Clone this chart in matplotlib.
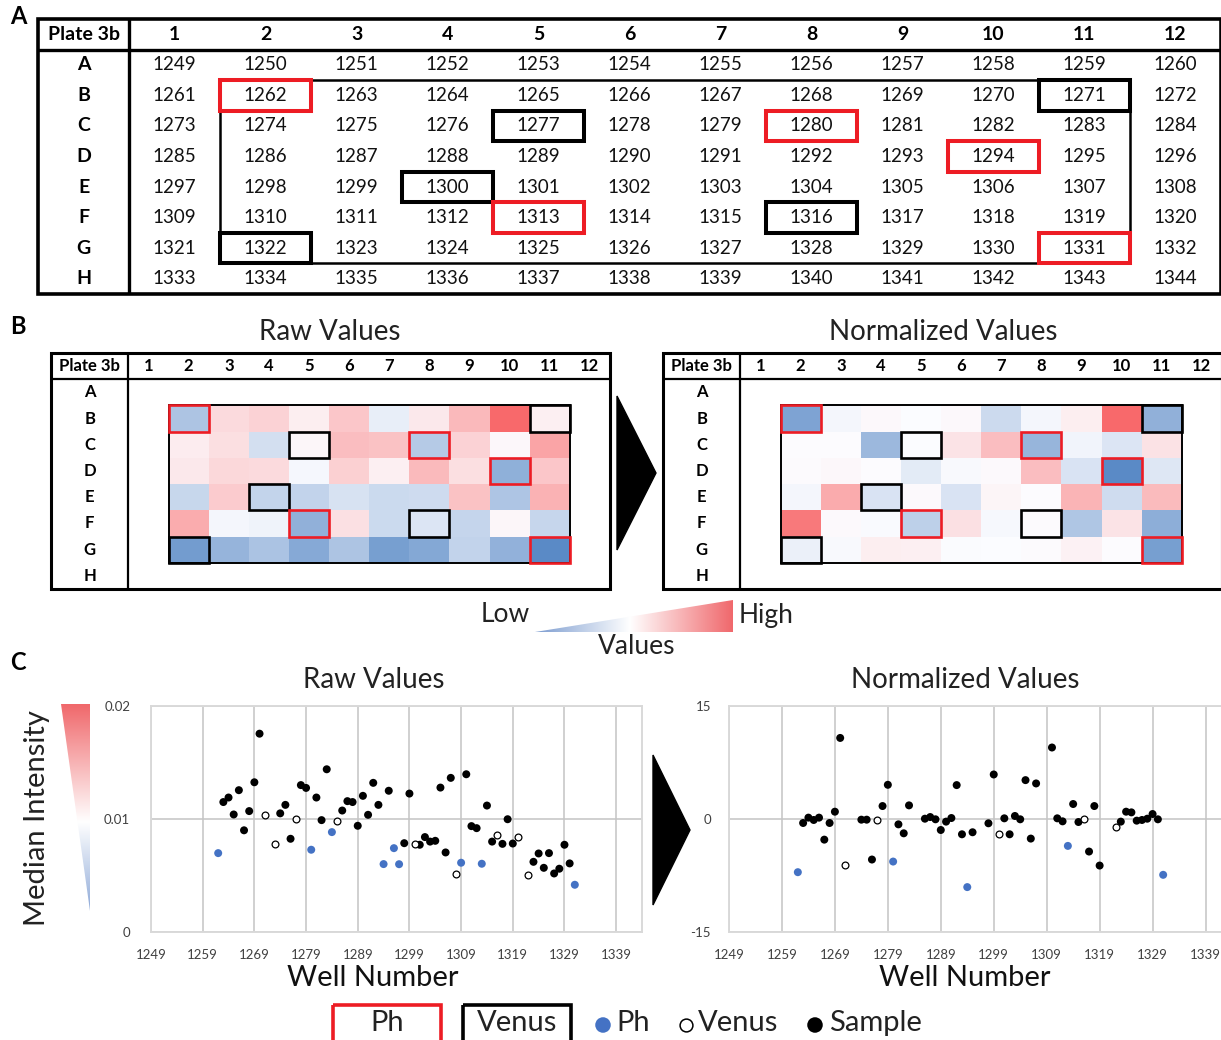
import numpy as np
import matplotlib
matplotlib.use('Agg')
import matplotlib.pyplot as plt
from matplotlib.patches import Rectangle, Polygon
from matplotlib.colors import LinearSegmentedColormap, TwoSlopeNorm

plt.rcParams['font.family'] = ['Lato', 'DejaVu Sans']

# ---------------- data ----------------
rows = list('ABCDEFGH')
cols = list(range(1, 13))
first_well = 1249
plate_name = 'Plate 3b'
region_rows = ('B', 'G')
region_cols = (2, 11)

ph_wells = [1262, 1280, 1294, 1313, 1331]
venus_wells = [1271, 1277, 1300, 1316, 1322]

sample_wells = [1263, 1264, 1265, 1266, 1267, 1268, 1269, 1270,
                1274, 1275, 1276, 1278, 1279, 1281, 1282, 1283,
                1286, 1287, 1288, 1289, 1290, 1291, 1292, 1293, 1295,
                1298, 1299, 1301, 1302, 1303, 1304, 1305, 1306, 1307,
                1310, 1311, 1312, 1314, 1315, 1317, 1318, 1319,
                1323, 1324, 1325, 1326, 1327, 1328, 1329, 1330]
raw_sample_vals = [0.0115, 0.0119, 0.0104, 0.01255, 0.0090, 0.0107, 0.01325, 0.01755,
                   0.0105, 0.01125, 0.00825, 0.0130, 0.01275, 0.0119, 0.0099, 0.0144,
                   0.01075, 0.01158, 0.0115, 0.0094, 0.01205, 0.01037, 0.0132, 0.01125, 0.0125,
                   0.00786, 0.01225, 0.00772, 0.0084, 0.0080, 0.00807, 0.01278, 0.00704, 0.01364,
                   0.01396, 0.00937, 0.00919, 0.01119, 0.0080, 0.0078, 0.00998, 0.00783,
                   0.00621, 0.00695, 0.00568, 0.00698, 0.00518, 0.0056, 0.00772, 0.00607]
norm_sample_vals = [-0.53, 0.18, -0.13, 0.18, -2.74, -0.53, 0.97, 10.76,
                    -0.09, -0.09, -5.38, 1.72, 4.54, -0.71, -1.9, 1.81,
                    0.04, 0.26, -0.04, -1.46, -0.35, 0.13, 4.5, -2.03, -1.76,
                    -0.57, 5.91, 0.09, -2.03, 0.4, -0.04, 5.16, -2.6, 4.72,
                    9.49, 0.09, -0.31, 1.99, -0.4, -4.32, 1.72, -6.18,
                    -0.35, 0.97, 0.88, -0.22, -0.13, 0.04, 0.66, -0.04]

raw_ph_wells = [1262, 1280, 1284, 1294, 1296, 1297, 1309, 1313, 1331]
raw_ph_vals = [0.00698, 0.00728, 0.00884, 0.00601, 0.00742, 0.0060, 0.00613, 0.00604, 0.00418]
raw_venus_wells = [1271, 1273, 1277, 1285, 1300, 1308, 1316, 1320, 1322]
raw_venus_vals = [0.01034, 0.00778, 0.01001, 0.00984, 0.00775, 0.00513, 0.00854, 0.00837, 0.00504]

norm_ph_wells = [1262, 1280, 1294, 1313, 1331]
norm_ph_vals = [-7.06, -5.65, -9.04, -3.57, -7.41]
norm_venus_wells = [1271, 1277, 1300, 1316, 1322]
norm_venus_vals = [-6.04, -0.13, -2.03, 0.04, -1.06]

raw_xticks = list(range(1249, 1340, 10))
raw_yticks = [0, 0.01, 0.02]
raw_yticklabels = ['0', '0.01', '0.02']
norm_yticks = [-15, 0, 15]
norm_yticklabels = ['-15', '0', '15']

# ---------------- styles ----------------
RED = '#ED1C24'
BLUE = '#4472C4'
W, H = 1221, 1040
heat_cmap = LinearSegmentedColormap.from_list('excel_bwr', ['#5A8AC6', '#FCFCFF', '#F8696B'])

fig = plt.figure(figsize=(W / 100, H / 100), dpi=100)


def px_axes(x0, y0, x1, y1, **kw):
    return fig.add_axes([x0 / W, 1 - y1 / H, (x1 - x0) / W, (y1 - y0) / H], **kw)


def well_pos(w):
    k = w - first_well
    return k // 12, k % 12 + 1


def well_number(ri, c):
    return first_well + 12 * ri + (c - 1)


def draw_plate(ax, label_w, head_fs, cell_fs, outer_lw, sep_lw, show_numbers):
    x0 = 0.5 - label_w
    ax.set_xlim(x0, 12.5)
    ax.set_ylim(8.5, -0.5)
    ax.axis('off')
    ax.add_patch(Rectangle((x0, -0.5), 12 + label_w, 9, fill=False, lw=outer_lw,
                           ec='black', clip_on=False, zorder=8))
    ax.plot([x0, 12.5], [0.5, 0.5], color='black', lw=sep_lw, clip_on=False,
            solid_capstyle='butt', zorder=8)
    ax.plot([0.5, 0.5], [-0.5, 8.5], color='black', lw=sep_lw, clip_on=False,
            solid_capstyle='butt', zorder=8)
    xl = (x0 + 0.5) / 2
    ax.text(xl, 0, plate_name, ha='center', va='center', fontsize=head_fs, fontweight='bold')
    for c in cols:
        ax.text(c, 0, str(c), ha='center', va='center', fontsize=head_fs, fontweight='bold')
    for i, r in enumerate(rows):
        ax.text(xl, i + 1, r, ha='center', va='center', fontsize=head_fs, fontweight='bold')
        if show_numbers:
            for c in cols:
                ax.text(c, i + 1, str(well_number(i, c)), ha='center', va='center',
                        fontsize=cell_fs, color='#111111')


def draw_marks(ax, box_lw, region_lw):
    ri0, ri1 = rows.index(region_rows[0]), rows.index(region_rows[1])
    ax.add_patch(Rectangle((region_cols[0] - 0.5, ri0 + 0.5), region_cols[1] - region_cols[0] + 1,
                           ri1 - ri0 + 1, fill=False, ec='black', lw=region_lw, zorder=6))
    for w in venus_wells:
        r, c = well_pos(w)
        ax.add_patch(Rectangle((c - 0.5, r + 0.5), 1, 1, fill=False, ec='black', lw=box_lw, zorder=7))
    for w in ph_wells:
        r, c = well_pos(w)
        ax.add_patch(Rectangle((c - 0.5, r + 0.5), 1, 1, fill=False, ec=RED, lw=box_lw, zorder=7))


def draw_heat(ax, values):
    ri0, ri1 = rows.index(region_rows[0]), rows.index(region_rows[1])
    grid = np.array([[values[well_number(ri, c)] for c in range(region_cols[0], region_cols[1] + 1)]
                     for ri in range(ri0, ri1 + 1)])
    norm = TwoSlopeNorm(vmin=grid.min(), vcenter=np.percentile(grid, 50), vmax=grid.max())
    xe = np.arange(region_cols[0] - 0.5, region_cols[1] + 0.51, 1)
    ye = np.arange(ri0 + 0.5, ri1 + 1.51, 1)
    ax.pcolormesh(xe, ye, grid, cmap=heat_cmap, norm=norm, zorder=2)


def draw_scatter(ax, ph_w, ph_v, v_w, v_v, s_v, yticks, yticklabels, ypad, label_x):
    ax.scatter(sample_wells, s_v, s=33, c='black', edgecolors='none', zorder=3, clip_on=False)
    ax.scatter(v_w, v_v, s=24, facecolors='white', edgecolors='black', linewidths=0.9, zorder=4)
    ax.scatter(ph_w, ph_v, s=33, c=BLUE, edgecolors='none', zorder=4)
    ax.set_xlim(1249, 1344)
    ax.set_ylim(yticks[0], yticks[-1])
    ax.set_xticks(raw_xticks)
    ax.set_xticklabels([str(t) for t in raw_xticks])
    ax.set_yticks(yticks)
    ax.set_yticklabels(yticklabels)
    ax.grid(True, color='#C4C4C4', lw=1.1)
    ax.set_axisbelow(True)
    for sp in ax.spines.values():
        sp.set_color('#D9D9D9')
        sp.set_linewidth(1.4)
    ax.tick_params(axis='both', length=0, labelsize=9.5, colors='#404040')
    ax.tick_params(axis='x', pad=12)
    ax.tick_params(axis='y', pad=ypad)
    ax.set_xlabel('Well Number', fontsize=21, color='#111111')
    ax.xaxis.set_label_coords(label_x, -0.145)


raw_values = dict(zip(sample_wells, raw_sample_vals))
raw_values.update(zip(raw_ph_wells, raw_ph_vals))
raw_values.update(zip(raw_venus_wells, raw_venus_vals))
norm_values = dict(zip(sample_wells, norm_sample_vals))
norm_values.update(zip(norm_ph_wells, norm_ph_vals))
norm_values.update(zip(norm_venus_wells, norm_venus_vals))

# ---------------- Panel A ----------------
axA = px_axes(38, 19, 1221, 294)
draw_plate(axA, 1.0, 14, 13.5, 2.6, 2.4, True)
draw_marks(axA, 2.9, 1.8)

# ---------------- Panel B ----------------
axB1 = px_axes(51, 353, 610, 589)
draw_plate(axB1, 1.93, 12, 12, 2.2, 1.6, False)
draw_heat(axB1, raw_values)
draw_marks(axB1, 1.9, 1.4)

axB2 = px_axes(663, 353, 1222, 589)
draw_plate(axB2, 1.93, 12, 12, 2.2, 1.6, False)
draw_heat(axB2, norm_values)
draw_marks(axB2, 1.9, 1.4)

# ---------------- Panel C ----------------
axC1 = px_axes(151, 706, 642, 932)
draw_scatter(axC1, raw_ph_wells, raw_ph_vals, raw_venus_wells, raw_venus_vals,
             raw_sample_vals, raw_yticks, raw_yticklabels, 15, 0.452)

axC2 = px_axes(729, 706, 1232, 932)
draw_scatter(axC2, norm_ph_wells, norm_ph_vals, norm_venus_wells, norm_venus_vals,
             norm_sample_vals, norm_yticks, norm_yticklabels, 13, 0.469)

# ---------------- overlay (annotations) ----------------
ov = fig.add_axes([0, 0, 1, 1], zorder=10)
ov.set_xlim(0, W)
ov.set_ylim(H, 0)
ov.axis('off')

for lab, (x, y) in {'A': (18, 16), 'B': (18, 326), 'C': (18, 663)}.items():
    ov.text(x, y, lab, fontsize=17, fontweight='bold', ha='center', va='center')

ov.text(330, 332, 'Raw Values', fontsize=20, ha='center', va='center', color='#222222')
ov.text(943, 332, 'Normalized Values', fontsize=20, ha='center', va='center', color='#222222')
ov.text(374, 680, 'Raw Values', fontsize=20, ha='center', va='center', color='#222222')
ov.text(965, 680, 'Normalized Values', fontsize=20, ha='center', va='center', color='#222222')

# arrows
ov.add_patch(Polygon([(617, 396), (617, 550), (656, 473)], closed=True, color='black'))
ov.add_patch(Polygon([(653, 755), (653, 905), (690, 830)], closed=True, color='black'))

# values wedge
wedge_cmap = LinearSegmentedColormap.from_list(
    'wedge', [(0, '#7C9CD0'), (0.48, '#FFFFFF'), (1, '#F0686C')])
grad = np.linspace(0, 1, 256).reshape(1, -1)
im = ov.imshow(grad, extent=(535, 733, 632, 600), cmap=wedge_cmap, aspect='auto',
               origin='upper', zorder=2)
tri = Polygon([(535, 632), (733, 600), (733, 632)], closed=True, fc='none', ec='none')
ov.add_patch(tri)
im.set_clip_path(tri)
ov.text(505, 615, 'Low', fontsize=19, ha='center', va='center', color='#222222')
ov.text(766, 615, 'High', fontsize=19, ha='center', va='center', color='#222222')
ov.text(637, 647, 'Values', fontsize=19, ha='center', va='center', color='#222222')

# median intensity wedge
mi_cmap = LinearSegmentedColormap.from_list(
    'mi', [(0, '#F0686B'), (0.57, '#FFFFFF'), (1, '#8FAAD8')])
gradv = np.linspace(0, 1, 256).reshape(-1, 1)
im2 = ov.imshow(gradv, extent=(61, 90, 911, 704), cmap=mi_cmap, aspect='auto',
                origin='upper', zorder=2)
tri2 = Polygon([(61, 704), (90, 704), (90, 911)], closed=True, fc='none', ec='none')
ov.add_patch(tri2)
im2.set_clip_path(tri2)
ov.text(37, 818, 'Median Intensity', fontsize=21, rotation=90, ha='center', va='center',
        color='#222222')

# legend
ov.add_patch(Rectangle((333, 1005), 108, 45, fill=False, ec=RED, lw=2.6))
ov.text(387, 1023, 'Ph', fontsize=21, ha='center', va='center', color='#222222')
ov.add_patch(Rectangle((463, 1005), 108, 45, fill=False, ec='black', lw=2.6))
ov.text(517, 1023, 'Venus', fontsize=21, ha='center', va='center', color='#222222')
ov.scatter([603], [1025], s=125, c=BLUE, edgecolors='none')
ov.text(616, 1023, 'Ph', fontsize=21, ha='left', va='center', color='#222222')
ov.scatter([686], [1025], s=85, facecolors='white', edgecolors='black', linewidths=1.1)
ov.text(698, 1023, 'Venus', fontsize=21, ha='left', va='center', color='#222222')
ov.scatter([815], [1025], s=125, c='black', edgecolors='none')
ov.text(829, 1023, 'Sample', fontsize=21, ha='left', va='center', color='#222222')

fig.savefig('out.png', dpi=100)
